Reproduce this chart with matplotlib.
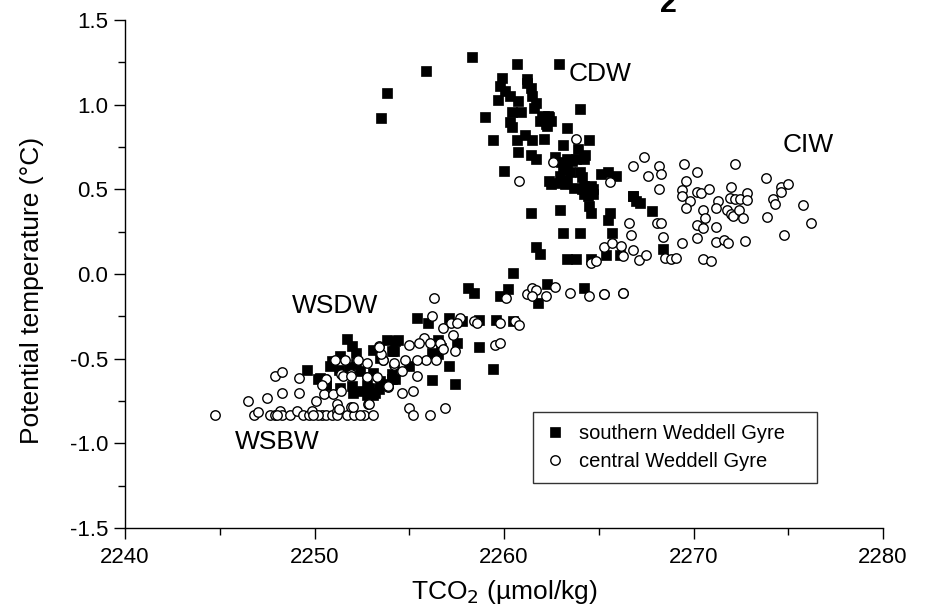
import matplotlib
matplotlib.use("Agg")
import matplotlib.pyplot as plt
from matplotlib.ticker import MultipleLocator
from matplotlib import font_manager

# ---------------- data ----------------
southern_tco2 = [
    2253.5, 2253.8, 2255.9, 2258.3, 2260.7, 2262.9, 2259.9, 2261.2, 2259.8, 2260.05,
    2261.4, 2259.7, 2260.3, 2260.75, 2261.5, 2261.7, 2259.0, 2260.4, 2260.3, 2260.4,
    2260.9, 2262.0, 2262.3, 2262.5, 2262.2, 2264.0, 2263.3, 2259.4, 2260.7, 2261.1,
    2261.5, 2262.1, 2260.75, 2261.4, 2261.7, 2263.1, 2264.5, 2262.7, 2263.3, 2263.8,
    2263.9, 2260.0, 2263.1, 2262.95, 2263.5, 2262.5, 2262.9, 2263.3, 2264.1, 2265.1,
    2265.5, 2265.9, 2263.7, 2264.1, 2264.6, 2264.45, 2264.7, 2264.5, 2264.6, 2265.6,
    2265.5, 2261.4, 2262.95, 2263.1, 2264.0, 2265.7, 2266.8, 2267.2, 2267.8, 2265.4,
    2266.1, 2268.4, 2261.7, 2261.9, 2263.3, 2263.8, 2264.6, 2260.5, 2258.1, 2258.4,
    2260.2, 2259.8, 2262.25, 2261.8, 2264.2, 2255.4, 2256.0, 2257.1, 2258.7, 2259.6,
    2260.5, 2257.8, 2253.8, 2254.4, 2254.2, 2256.5, 2257.5, 2258.7, 2256.2, 2256.5,
    2257.1, 2259.4, 2256.2, 2257.4, 2254.1, 2254.25, 2253.6, 2255.0, 2256.7, 2249.6,
    2251.7, 2252.0, 2252.2, 2250.9, 2250.8, 2250.2, 2250.6, 2251.3, 2251.8, 2252.0,
    2252.5, 2252.9, 2253.4, 2253.1, 2253.45, 2254.25, 2254.1, 2251.35, 2252.4, 2254.1,
    2252.75, 2253.1, 2253.1, 2253.45, 2252.2, 2250.3, 2250.6, 2251.35, 2252.05, 2252.75,
    2253.2, 2261.6, 2261.2, 2262.1, 2262.4, 2261.9, 2262.25, 2264.3, 2264.2, 2263.6,
    2263.0, 2262.4, 2263.3, 2264.0, 2263.2, 2264.2, 2264.7, 2264.2, 2266.8, 2266.95,
]
southern_theta = [
    0.92, 1.07, 1.20, 1.28, 1.24, 1.24, 1.16, 1.15, 1.11, 1.08,
    1.10, 1.03, 1.05, 1.02, 1.05, 1.01, 0.93, 0.955, 0.90, 0.87,
    0.955, 0.925, 0.935, 0.905, 0.885, 0.975, 0.86, 0.79, 0.79, 0.82,
    0.79, 0.80, 0.72, 0.70, 0.68, 0.76, 0.79, 0.69, 0.68, 0.68,
    0.74, 0.61, 0.62, 0.58, 0.60, 0.53, 0.54, 0.55, 0.57, 0.59,
    0.60, 0.58, 0.51, 0.50, 0.52, 0.46, 0.47, 0.40, 0.36, 0.36,
    0.32, 0.36, 0.38, 0.24, 0.24, 0.24, 0.46, 0.42, 0.37, 0.11,
    0.11, 0.146, 0.16, 0.12, 0.087, 0.087, 0.087, 0.004, -0.08, -0.11,
    -0.09, -0.13, -0.06, -0.17, -0.08, -0.26, -0.29, -0.26, -0.27, -0.27,
    -0.28, -0.28, -0.39, -0.39, -0.455, -0.39, -0.41, -0.43, -0.466, -0.475,
    -0.544, -0.56, -0.627, -0.647, -0.59, -0.62, -0.65, -0.544, -0.436, -0.564,
    -0.386, -0.426, -0.466, -0.515, -0.544, -0.623, -0.653, -0.564, -0.55, -0.663,
    -0.692, -0.673, -0.682, -0.584, -0.633, -0.396, -0.456, -0.485, -0.574, -0.623,
    -0.653, -0.712, -0.446, -0.495, -0.534, -0.613, -0.643, -0.673, -0.702, -0.712,
    -0.702, 0.98, 1.13, 0.935, 0.925, 0.905, 0.875, 0.70, 0.68, 0.67,
    0.66, 0.55, 0.62, 0.60, 0.53, 0.52, 0.50, 0.47, 0.46, 0.43,
]

central_tco2 = [
    2263.8, 2262.6, 2260.8, 2265.6, 2266.8, 2267.4, 2267.6, 2266.6, 2266.7, 2268.2,
    2268.3, 2268.2, 2269.5, 2270.2, 2269.6, 2269.4, 2269.4, 2269.8, 2269.6, 2270.2,
    2270.4, 2270.8, 2270.5, 2270.6, 2270.2, 2270.5, 2271.2, 2271.3, 2271.2, 2272.0,
    2271.9, 2272.2, 2272.45, 2272.8, 2272.8, 2271.75, 2272.0, 2272.1, 2272.4, 2272.6,
    2272.2, 2271.2, 2271.6, 2271.8, 2272.7, 2273.8, 2274.6, 2274.6, 2275.0, 2274.2,
    2274.3, 2273.9, 2274.8, 2275.8, 2276.2, 2268.05, 2268.3, 2268.4, 2265.3, 2265.7,
    2266.2, 2266.3, 2266.8, 2267.1, 2267.5, 2268.5, 2268.8, 2269.1, 2269.4, 2270.2,
    2270.5, 2270.9, 2265.3, 2266.3, 2264.6, 2264.85, 2256.3, 2261.2, 2261.5, 2261.7,
    2262.2, 2262.7, 2261.5, 2260.1, 2263.5, 2264.5, 2265.3, 2266.3, 2256.2, 2257.7,
    2257.2, 2257.5, 2258.4, 2258.6, 2259.8, 2260.6, 2260.8, 2256.8, 2257.3, 2255.8,
    2256.1, 2256.6, 2255.5, 2255.0, 2259.5, 2259.8, 2257.4, 2256.8, 2255.9, 2255.4,
    2254.8, 2254.2, 2253.6, 2256.4, 2254.6, 2255.4, 2253.9, 2254.6, 2255.2, 2255.0,
    2255.2, 2256.1, 2256.9, 2244.75, 2246.8, 2247.0, 2246.5, 2247.5, 2247.9, 2248.3,
    2248.3, 2247.65, 2247.9, 2248.2, 2248.3, 2249.2, 2249.2, 2248.7, 2249.1, 2249.4,
    2249.7, 2249.85, 2250.1, 2250.5, 2250.95, 2250.4, 2250.6, 2250.9, 2251.2, 2251.2,
    2251.7, 2252.1, 2251.95, 2251.4, 2251.1, 2251.6, 2250.6, 2251.4, 2251.95, 2252.25,
    2252.75, 2252.6, 2252.8, 2253.1, 2253.4, 2253.6, 2254.2, 2253.9, 2253.5, 2253.4,
    2252.3, 2252.75, 2250.6, 2250.4, 2251.5, 2251.95, 2252.75, 2253.3, 2253.9, 2252.9,
    2252.05, 2251.2, 2251.3, 2250.2, 2252.4, 2248.0, 2249.9,
]
central_theta = [
    0.80, 0.66, 0.55, 0.545, 0.64, 0.69, 0.58, 0.30, 0.23, 0.64,
    0.59, 0.50, 0.65, 0.605, 0.55, 0.495, 0.46, 0.43, 0.39, 0.485,
    0.48, 0.50, 0.377, 0.33, 0.29, 0.27, 0.28, 0.43, 0.39, 0.515,
    0.45, 0.44, 0.44, 0.48, 0.435, 0.377, 0.357, 0.343, 0.377, 0.333,
    0.65, 0.19, 0.20, 0.185, 0.195, 0.566, 0.515, 0.487, 0.534, 0.44,
    0.416, 0.337, 0.23, 0.407, 0.30, 0.30, 0.30, 0.22, 0.16, 0.185,
    0.166, 0.106, 0.142, 0.08, 0.11, 0.096, 0.09, 0.093, 0.185, 0.21,
    0.09, 0.077, -0.12, -0.114, 0.067, 0.077, -0.14, -0.12, -0.08, -0.097,
    -0.13, -0.077, -0.13, -0.14, -0.11, -0.13, -0.12, -0.11, -0.25, -0.26,
    -0.29, -0.29, -0.28, -0.29, -0.29, -0.28, -0.30, -0.32, -0.36, -0.38,
    -0.41, -0.41, -0.41, -0.42, -0.42, -0.41, -0.455, -0.445, -0.505, -0.51,
    -0.51, -0.535, -0.505, -0.505, -0.57, -0.60, -0.66, -0.70, -0.69, -0.79,
    -0.83, -0.83, -0.79, -0.834, -0.834, -0.815, -0.75, -0.735, -0.60, -0.58,
    -0.70, -0.83, -0.83, -0.81, -0.834, -0.617, -0.70, -0.834, -0.81, -0.834,
    -0.834, -0.81, -0.75, -0.71, -0.71, -0.834, -0.83, -0.834, -0.81, -0.834,
    -0.834, -0.834, -0.787, -0.69, -0.51, -0.505, -0.623, -0.59, -0.59, -0.51,
    -0.61, -0.834, -0.77, -0.834, -0.426, -0.51, -0.525, -0.667, -0.475, -0.43,
    -0.51, -0.525, -0.623, -0.653, -0.603, -0.60, -0.61, -0.61, -0.663, -0.77,
    -0.785, -0.77, -0.80, -0.834, -0.834, -0.834, -0.834,
]

series_labels = ["southern Weddell Gyre", "central Weddell Gyre"]
water_masses = ["CDW", "CIW", "WSDW", "WSBW"]
water_mass_x = [2263.4, 2274.7, 2248.8, 2245.8]
water_mass_y = [1.18, 0.76, -0.19, -0.99]
x_ticks = [2240, 2250, 2260, 2270, 2280]
y_ticks = [-1.5, -1.0, -0.5, 0.0, 0.5, 1.0, 1.5]

# ---------------- style ----------------
names = {f.name for f in font_manager.fontManager.ttflist}
fam = ["Liberation Sans Narrow", "Liberation Sans", "DejaVu Sans"]
fam = [f for f in fam if f in names] or ["DejaVu Sans"]
plt.rcParams["font.family"] = fam

fig = plt.figure(figsize=(9.3, 6.12), dpi=100)
ax = fig.add_axes([125 / 930, 1 - 528 / 612, 758 / 930, 508 / 612])

ax.plot(southern_tco2, southern_theta, linestyle="none", marker="s",
        markersize=7.2, markerfacecolor="black", markeredgecolor="black",
        markeredgewidth=0.5, label=series_labels[0], zorder=3)
ax.plot(central_tco2, central_theta, linestyle="none", marker="o",
        markersize=6.8, markerfacecolor="white", markeredgecolor="black",
        markeredgewidth=1.0, label=series_labels[1], zorder=4)

ax.set_xlim(2240, 2280)
ax.set_ylim(-1.5, 1.5)
ax.set_xticks(x_ticks)
ax.set_yticks(y_ticks)
ax.set_xticklabels([str(v) for v in x_ticks])
ax.set_yticklabels(["%.1f" % v for v in y_ticks])
ax.xaxis.set_minor_locator(MultipleLocator(5))
ax.yaxis.set_minor_locator(MultipleLocator(0.25))

for s in ["top", "right"]:
    ax.spines[s].set_visible(False)
for s in ["left", "bottom"]:
    ax.spines[s].set_linewidth(1.0)

ax.tick_params(which="major", direction="out", length=8, width=1.0,
               labelsize=16, pad=4)
ax.tick_params(which="minor", direction="out", length=5, width=1.0)
ax.tick_params(axis="x", which="major", pad=6)

ax.set_xlabel("TCO$_2$ (µmol/kg)", fontsize=19)
ax.set_ylabel("Potential temperature (°C)", fontsize=19)
ax.xaxis.set_label_coords(0.5, -0.098)
ax.yaxis.set_label_coords(-0.107, 0.467)

for name, x, y in zip(water_masses, water_mass_x, water_mass_y):
    ax.text(x, y, name, fontsize=19, ha="left", va="center", zorder=5)

leg = ax.legend(loc="lower left", bbox_to_anchor=(0.538, 0.0886, 0.375, 0.14),
                mode="expand", fontsize=14.5,
                frameon=True, fancybox=False, edgecolor="black",
                handletextpad=0.7, borderpad=0.6, labelspacing=0.45,
                handlelength=1.0, borderaxespad=0.0)
leg.get_frame().set_linewidth(1.0)

fig.text(668 / 930, 1 - 4 / 612, "2", fontsize=22, fontweight="bold",
         ha="center", va="center")

fig.savefig("out.png", dpi=100)
